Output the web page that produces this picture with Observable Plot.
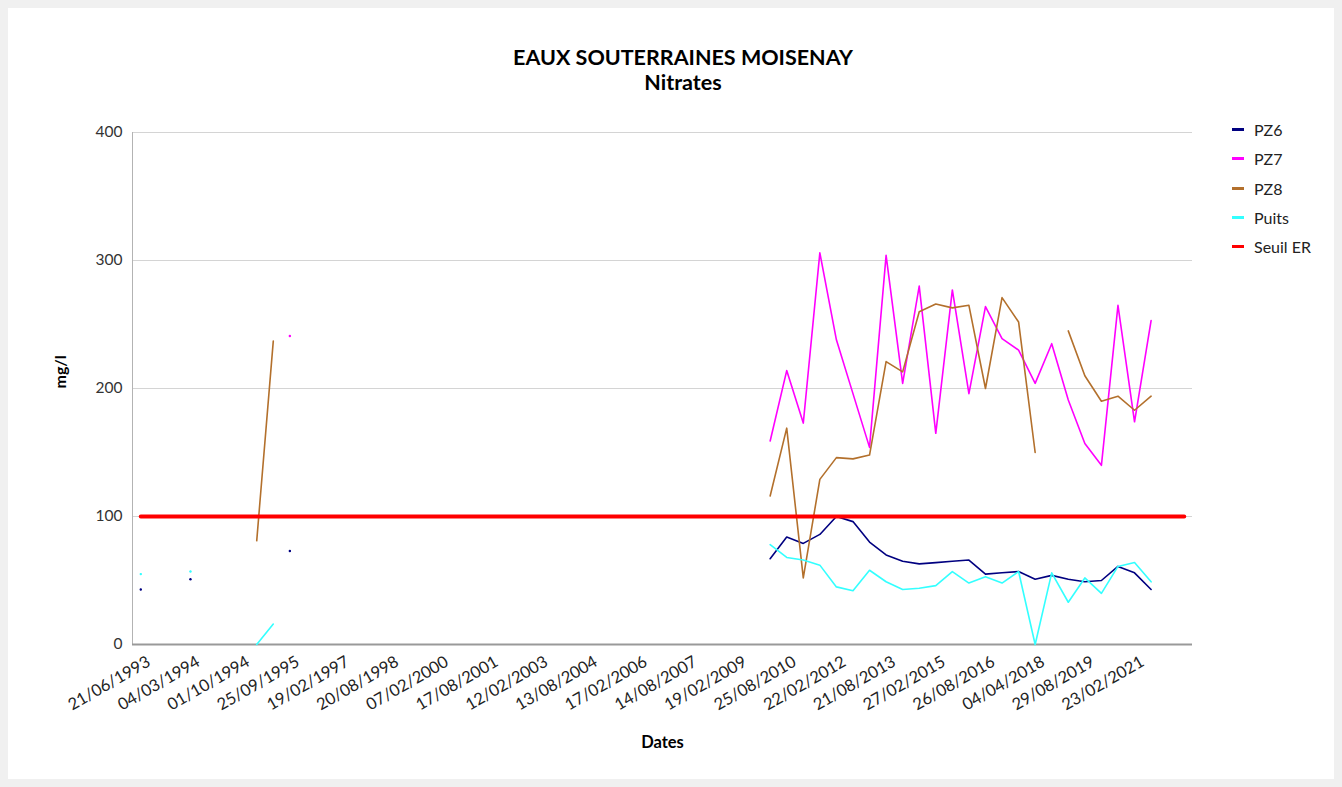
<!DOCTYPE html>
<html>
<head>
<meta charset="utf-8">
<script src="https://cdn.jsdelivr.net/npm/d3@7"></script>
<script src="https://cdn.jsdelivr.net/npm/@observablehq/plot@0.6"></script>
<style>
  html, body { margin: 0; padding: 0; background: #f0f0f0; }
  body { width: 1342px; height: 787px; position: relative; overflow: hidden; font-family: Lato, "Open Sans", sans-serif; }
  #card { position: absolute; left: 8px; top: 8px; width: 1326px; height: 771px; background: #fff; }
  #title { position: absolute; left: 12px; width: 1342px; top: 45px; text-align: center; font-weight: bold; font-size: 21.5px; line-height: 25px; color: #000; }
  #chart { position: absolute; left: 0; top: 110px; }
  #legend { position: absolute; left: 1232px; top: 115px; font-size: 16px; color: #222; }
  .item { height: 29.3px; display: flex; align-items: center; }
  .sw { width: 12px; height: 3px; margin-right: 10px; }
</style>
</head>
<body>
<div id="card"></div>
<div id="title">EAUX SOUTERRAINES MOISENAY<br>Nitrates</div>
<div id="chart"></div>
<div id="legend"></div>
<script>
// Category axis: 64 dated samples; every third date is labelled.
const nCategories = 64;
const tickLabels = ["21/06/1993","04/03/1994","01/10/1994","25/09/1995","19/02/1997","20/08/1998",
  "07/02/2000","17/08/2001","12/02/2003","13/08/2004","17/02/2006","14/08/2007","19/02/2009",
  "25/08/2010","22/02/2012","21/08/2013","27/02/2015","26/08/2016","04/04/2018","29/08/2019","23/02/2021"];

const seriesNames = ["PZ6", "PZ7", "PZ8", "Puits", "Seuil ER"];
const seriesColors = ["#000080", "#ff00ff", "#b3702c", "#33ffff", "#ff0000"];

const _ = null;
const PZ6 = [43,_,_,51,_,_,_,_,_,73, _,_,_,_,_,_,_,_,_,_, _,_,_,_,_,_,_,_,_,_, _,_,_,_,_,_,_,_,
  67,84,79,86,100,96,80,70,65,63,64,65,66,55,56,57,51,54,51,49,50,61,56,43, _,_];
const PZ7 = [_,_,_,_,_,_,_,_,_,241, _,_,_,_,_,_,_,_,_,_, _,_,_,_,_,_,_,_,_,_, _,_,_,_,_,_,_,_,
  159,214,173,306,238,196,154,304,204,280,165,277,196,264,239,230,204,235,191,157,140,265,174,253, _,_];
const PZ8 = [_,_,_,_,_,_,_,81,237,_, _,_,_,_,_,_,_,_,_,_, _,_,_,_,_,_,_,_,_,_, _,_,_,_,_,_,_,_,
  116,169,52,129,146,145,148,221,213,260,266,263,265,200,271,252,150,_,245,210,190,194,183,194, _,_];
const Puits = [55,_,_,57,_,_,_,0,16,_, _,_,_,_,_,_,_,_,_,_, _,_,_,_,_,_,_,_,_,_, _,_,_,_,_,_,_,_,
  78,68,66,62,45,42,58,49,43,44,46,57,48,53,48,57,0,56,33,52,40,61,64,49, _,_];
const SeuilER = [100,100,100,100,100,100,100,100,100,100, 100,100,100,100,100,100,100,100,100,100,
  100,100,100,100,100,100,100,100,100,100, 100,100,100,100,100,100,100,100,100,100,
  100,100,100,100,100,100,100,100,100,100, 100,100,100,100,100,100,100,100,100,100, 100,100,100,100];
const yTicks = [0, 100, 200, 300, 400];

const seriesValues = [PZ6, PZ7, PZ8, Puits, SeuilER];
const rows = [];
seriesValues.forEach((arr, k) => arr.forEach((v, i) => rows.push({i, v, s: seriesNames[k]})));
const isolated = [];
seriesValues.forEach((arr, k) => arr.forEach((v, i) => {
  if (v != null && arr[i - 1] == null && arr[i + 1] == null) isolated.push({i, v, s: seriesNames[k]});
}));
const tickPos = tickLabels.map((d, j) => j * 3);

const chart = Plot.plot({
  width: 1342, height: 660,
  marginLeft: 132, marginRight: 150, marginTop: 22, marginBottom: 126,
  style: {fontFamily: "Lato, sans-serif", fontSize: "15px", color: "#333", background: "transparent"},
  x: {type: "linear", domain: [-0.5, nCategories - 0.5], axis: null},
  y: {domain: [0, 400], axis: null},
  color: {domain: seriesNames, range: seriesColors},
  marks: [
    Plot.gridY(yTicks.slice(1), {stroke: "#d4d4d4", strokeOpacity: 1}),
    Plot.ruleX([-0.5], {stroke: "#b3b3b3", strokeWidth: 1}),
    Plot.ruleY([0], {stroke: "#999", strokeWidth: 2}),
    Plot.axisY(yTicks, {label: null, tickSize: 0, tickPadding: 10, fontSize: 15.5, fill: "#333"}),
    Plot.axisX(tickPos, {label: null, tickSize: 0, tickPadding: 16, dx: 8, tickRotate: -30, fontSize: 16.5, fill: "#222",
      tickFormat: d => tickLabels[d / 3]}),
    Plot.line(rows.filter(d => d.s !== "Seuil ER"), {x: "i", y: "v", z: "s", stroke: "s", strokeWidth: 1.6}),
    Plot.dot(isolated, {x: "i", y: "v", fill: "s", r: 1.2}),
    Plot.line(rows.filter(d => d.s === "Seuil ER"), {x: "i", y: "v", stroke: "s", strokeWidth: 4}),
    Plot.text(["Dates"], {frameAnchor: "bottom", dy: 103, fontWeight: "bold", fontSize: 16.5, fill: "#000"}),
    Plot.text(["mg/l"], {frameAnchor: "left", dx: -72, rotate: -90, fontWeight: "bold", fontSize: 16, fill: "#000"})
  ]
});
document.getElementById("chart").appendChild(chart);

const legend = document.getElementById("legend");
seriesNames.forEach((n, k) => {
  const it = document.createElement("div");
  it.className = "item";
  it.innerHTML = `<span class="sw" style="background:${seriesColors[k]}"></span><span>${n}</span>`;
  legend.appendChild(it);
});
</script>
</body>
</html>
